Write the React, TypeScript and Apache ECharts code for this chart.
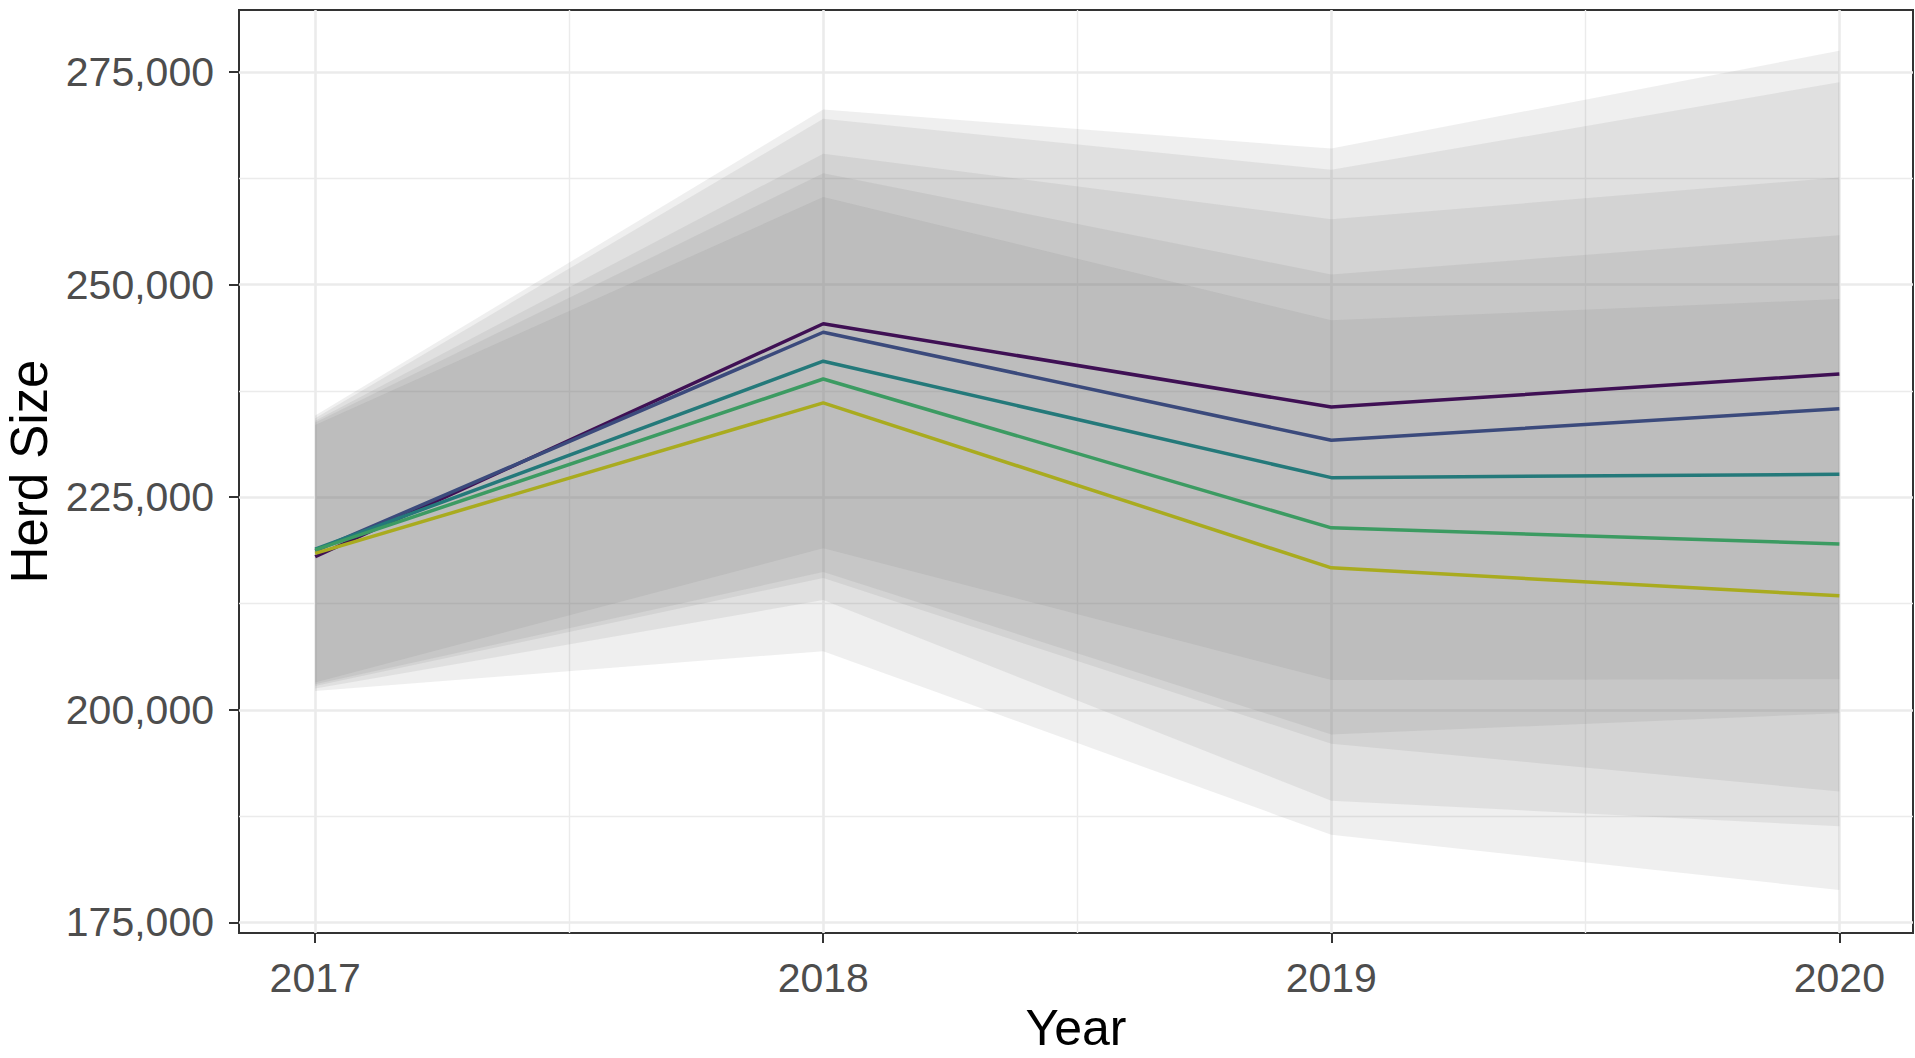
import React, { useEffect, useRef } from 'react';
import * as echarts from 'echarts';

// ---- data ----
const years = [2017, 2018, 2019, 2020];
const seriesNames = ['Series 1', 'Series 2', 'Series 3', 'Series 4', 'Series 5'];
const lineColors = ['#3F1054', '#3B4A7C', '#24797A', '#3C9B62', '#A9AB1F'];
const lineValues = [
  [218000, 245400, 235600, 239500],
  [218700, 244400, 231700, 235400],
  [218900, 241000, 227300, 227700],
  [218800, 238900, 221400, 219500],
  [218400, 236100, 216700, 213400],
];
const bandUpper = [
  [234600, 270600, 266000, 277500],
  [234300, 269500, 263500, 273800],
  [234000, 265400, 257700, 262600],
  [233800, 263100, 251200, 255800],
  [233500, 260300, 245800, 248300],
];
const bandLower = [
  [203200, 219000, 203500, 203600],
  [203000, 216200, 197100, 199600],
  [202800, 215500, 196000, 190400],
  [202500, 212900, 189300, 186300],
  [202200, 206900, 185300, 178800],
];
const yMajor = [175000, 200000, 225000, 250000, 275000];
const yMinor = [187500, 212500, 237500, 262500];
const xMajor = [2017, 2018, 2019, 2020];
const xMinor = [2017.5, 2018.5, 2019.5];

const FONT = '"Liberation Sans", Arial, sans-serif';
const BAND_FILL = 'rgba(101,101,101,0.104)';
const W = 1915;
const H = 1058;

export default function App() {
  const ref = useRef<HTMLDivElement>(null);
  useEffect(() => {
    if (!ref.current) return;
    document.body.style.margin = '0';
    const chart = echarts.init(ref.current, null, { renderer: 'svg', width: W, height: H });
    const gridMajor = { color: '#EBEBEB', width: 2.6, type: 'solid' };
    const gridMinor = { color: '#EBEBEB', width: 1.4, type: 'solid' };
    const markData: any[] = [
      ...yMinor.map((v) => ({ yAxis: v, lineStyle: gridMinor })),
      ...xMinor.map((v) => ({ xAxis: v, lineStyle: gridMinor })),
      ...yMajor.map((v) => ({ yAxis: v, lineStyle: gridMajor })),
      ...xMajor.map((v) => ({ xAxis: v, lineStyle: gridMajor })),
    ];
    const series: any[] = [
      {
        type: 'line',
        name: 'grid',
        data: [],
        silent: true,
        z: 1,
        markLine: {
          silent: true,
          z: 1,
          symbol: ['none', 'none'],
          label: { show: false },
          emphasis: { disabled: true },
          animation: false,
          data: markData,
        },
      },
      {
        type: 'custom',
        name: 'bands',
        silent: true,
        z: 2,
        data: bandUpper.map((_, i) => [i, bandLower[i][0]]),
        renderItem: (params: any, api: any) => {
          const i = api.value(0) as number;
          const pts: number[][] = [];
          years.forEach((y, j) => pts.push(api.coord([y, bandUpper[i][j]])));
          for (let j = years.length - 1; j >= 0; j--) {
            pts.push(api.coord([years[j], bandLower[i][j]]));
          }
          return {
            type: 'polygon',
            shape: { points: pts },
            style: { fill: BAND_FILL, stroke: 'none' },
          };
        },
      },
    ];
    lineValues.forEach((vals, i) => {
      series.push({
        type: 'line',
        name: seriesNames[i],
        data: years.map((y, j) => [y, vals[j]]),
        symbol: 'none',
        lineStyle: { color: lineColors[i], width: 3.5 },
        itemStyle: { color: lineColors[i] },
        silent: true,
        z: 3,
      });
    });
    chart.setOption({
      animation: false,
      backgroundColor: '#FFFFFF',
      textStyle: { fontFamily: FONT },
      grid: {
        left: 239,
        top: 10,
        right: 2,
        bottom: 125,
        show: true,
        borderColor: '#333333',
        borderWidth: 2,
        backgroundColor: 'transparent',
        containLabel: false,
        outerBoundsMode: 'none',
      },
      xAxis: {
        type: 'value',
        min: 2016.85,
        max: 2020.145,
        name: 'Year',
        nameLocation: 'middle',
        nameGap: 70,
        nameTextStyle: { fontSize: 50, lineHeight: 50, color: '#000000', fontFamily: FONT },
        axisLine: { show: false },
        splitLine: { show: false },
        axisTick: {
          show: true,
          length: 10,
          customValues: xMajor,
          lineStyle: { color: '#333333', width: 2 },
        },
        axisLabel: {
          customValues: xMajor,
          formatter: (v: number) => String(v),
          fontSize: 41,
          color: '#4D4D4D',
          margin: 24,
          fontFamily: FONT,
        },
      },
      yAxis: {
        type: 'value',
        min: 173750,
        max: 282300,
        name: 'Herd Size',
        nameLocation: 'middle',
        nameGap: 172,
        nameRotate: 90,
        nameTextStyle: { fontSize: 51, color: '#000000', fontFamily: FONT },
        axisLine: { show: false },
        splitLine: { show: false },
        axisTick: {
          show: true,
          length: 10,
          customValues: yMajor,
          lineStyle: { color: '#333333', width: 2 },
        },
        axisLabel: {
          customValues: yMajor,
          formatter: (v: number) => v.toLocaleString('en-US'),
          fontSize: 41,
          color: '#4D4D4D',
          margin: 25,
          fontFamily: FONT,
        },
      },
      series,
    });
    return () => chart.dispose();
  }, []);
  return (
    <div
      ref={ref}
      style={{ position: 'fixed', left: 0, top: 0, width: W, height: H, background: '#fff' }}
    />
  );
}
